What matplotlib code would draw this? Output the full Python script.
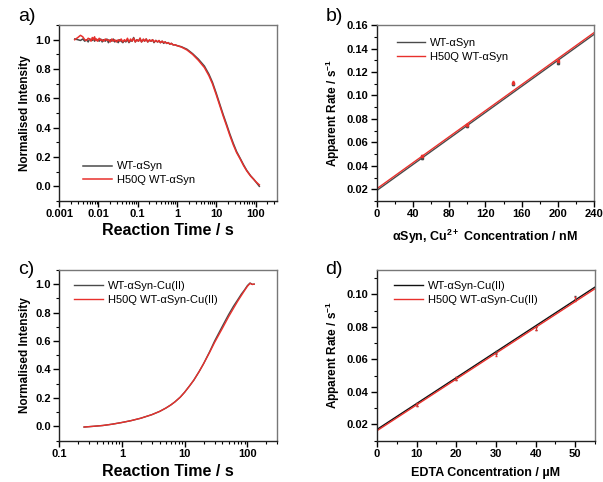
import numpy as np
import matplotlib
matplotlib.use("Agg")
import matplotlib.pyplot as plt
from matplotlib.ticker import MultipleLocator, LogLocator, NullFormatter, FixedLocator

plt.rcParams['font.family'] = ['Liberation Sans', 'DejaVu Sans']
plt.rcParams['mathtext.fontset'] = 'custom'
plt.rcParams['mathtext.rm'] = 'Liberation Sans'
plt.rcParams['mathtext.bf'] = 'Liberation Sans:bold'

# ---- panel a: decay traces (log time) ----
t_fast = [0.0025, 0.003, 0.0035, 0.004, 0.0045, 0.005, 0.0055, 0.006, 0.0065, 0.007,
          0.0075, 0.008, 0.0085, 0.009, 0.0095, 0.0105, 0.0115, 0.0125, 0.0135, 0.015,
          0.0165, 0.018, 0.02, 0.022, 0.024, 0.026, 0.029, 0.032, 0.035, 0.038,
          0.042, 0.046, 0.05, 0.055, 0.06, 0.066, 0.072, 0.079, 0.087, 0.095,
          0.105, 0.115, 0.125, 0.14, 0.15, 0.165, 0.18, 0.2, 0.22, 0.24,
          0.26, 0.29, 0.32, 0.35, 0.38, 0.42, 0.46, 0.5, 0.55, 0.6,
          0.66, 0.72, 0.8, 0.9, 1.0]
red_fast = [1.0, 1.015, 1.03, 1.02, 1.0, 0.995, 1.01, 1.005, 0.99, 1.015,
            1.0, 1.02, 0.995, 1.005, 0.99, 1.01, 0.995, 1.0, 0.99, 1.005,
            0.995, 1.0, 0.985, 1.005, 0.99, 1.0, 0.985, 1.0, 0.99, 1.005,
            0.985, 1.0, 0.99, 1.01, 0.985, 1.005, 0.99, 1.01, 0.985, 1.0,
            0.99, 1.01, 0.985, 1.005, 0.99, 1.005, 0.985, 1.0, 0.99, 1.0,
            0.985, 0.995, 0.985, 0.995, 0.98, 0.99, 0.98, 0.985, 0.975, 0.98,
            0.97, 0.975, 0.965, 0.965, 0.96]
blk_fast = [1.005, 1.0, 0.995, 1.005, 0.99, 1.0, 0.985, 1.005, 1.0, 0.995,
            1.01, 0.99, 1.005, 0.995, 1.0, 0.99, 1.005, 0.985, 1.0, 0.99,
            1.005, 0.98, 1.0, 0.99, 1.005, 0.985, 0.995, 0.98, 1.0, 0.99,
            0.98, 0.995, 0.985, 1.0, 0.98, 0.995, 0.99, 1.015, 0.985, 1.0,
            0.99, 1.01, 0.985, 1.0, 0.99, 1.005, 0.985, 0.995, 0.99, 1.0,
            0.98, 0.995, 0.985, 0.99, 0.98, 0.99, 0.975, 0.985, 0.975, 0.98,
            0.97, 0.975, 0.965, 0.965, 0.96]
t_slow = [1.3, 1.8, 2.5, 3.5, 5, 6.5, 8, 10, 12.5, 15, 18.5, 22, 27, 33, 40, 50, 60, 75, 90, 105, 125]
red_slow = [0.95, 0.93, 0.9, 0.86, 0.81, 0.755, 0.7, 0.625, 0.545, 0.48, 0.41, 0.35,
            0.285, 0.23, 0.19, 0.14, 0.105, 0.07, 0.048, 0.028, 0.01]
blk_slow = [0.952, 0.935, 0.905, 0.868, 0.82, 0.765, 0.71, 0.635, 0.555, 0.49, 0.42, 0.36,
            0.295, 0.237, 0.195, 0.145, 0.108, 0.072, 0.048, 0.026, 0.0]

# ---- panel b: rate vs aSyn/Cu concentration ----
b_fit_x = [0, 240]
b_fit_wt = [0.019, 0.152]
b_fit_h50q = [0.0205, 0.1535]
b_x = [50, 100, 150, 200]
b_wt = [0.047, 0.074, 0.110, 0.128]
b_h50q = [0.048, 0.075, 0.111, 0.129]
b_err = [0.0008, 0.0010, 0.0010, 0.0012]

# ---- panel c: rise traces ----
c_t = [0.25, 0.35, 0.5, 0.7, 1.0, 1.4, 2, 3, 4, 5, 6, 7, 8.5, 10, 12, 14, 17, 20, 25, 30, 40,
       50, 60, 70, 80, 90, 100, 110, 120, 128]
c_h50q = [-0.005, 0.0, 0.006, 0.015, 0.027, 0.04, 0.057, 0.082, 0.105, 0.128, 0.15, 0.172,
          0.205, 0.24, 0.285, 0.325, 0.385, 0.44, 0.52, 0.59, 0.69, 0.77, 0.83, 0.88, 0.92,
          0.955, 0.985, 1.005, 0.998, 1.0]
c_wt = [-0.005, 0.0, 0.006, 0.015, 0.027, 0.04, 0.057, 0.082, 0.105, 0.128, 0.15, 0.172,
        0.205, 0.24, 0.285, 0.325, 0.385, 0.44, 0.525, 0.6, 0.705, 0.785, 0.845, 0.89, 0.93,
        0.96, 0.99, 1.008, 0.998, 1.0]

# ---- panel d: rate vs EDTA ----
d_fit_x = [0, 55]
d_fit_wt = [0.0168, 0.1045]
d_fit_h50q = [0.016, 0.1035]
d_x = [10, 20, 30, 40, 50]
d_wt = [0.032, 0.048, 0.064, 0.079, 0.098]
d_h50q = [0.032, 0.048, 0.063, 0.079, 0.097]
d_err = [0.0008, 0.0008, 0.0008, 0.0010, 0.0012]

RED = '#e8302c'
GREY = '#4a4a4a'

fig = plt.figure(figsize=(6.03, 4.82), dpi=100)
ax_a = fig.add_axes([0.098, 0.583, 0.362, 0.365])
ax_b = fig.add_axes([0.625, 0.583, 0.360, 0.365])
ax_c = fig.add_axes([0.098, 0.086, 0.362, 0.354])
ax_d = fig.add_axes([0.625, 0.086, 0.362, 0.354])


def style(ax):
    for s in ['left', 'bottom']:
        ax.spines[s].set_color('#222222')
    for s in ['top', 'right']:
        ax.spines[s].set_color('#777777')
    for s in ax.spines.values():
        s.set_linewidth(1.0)
    ax.tick_params(which='major', direction='out', length=4, width=1, labelsize=8,
                   top=False, right=False, pad=2)
    ax.tick_params(which='minor', direction='out', length=2, width=0.8, top=False, right=False)
    for lab in ax.get_xticklabels() + ax.get_yticklabels():
        lab.set_fontweight('bold')


def legend(ax, anchor):
    leg = ax.legend(loc='upper left', bbox_to_anchor=anchor, frameon=False, fontsize=8,
                    handlelength=2.6, handletextpad=0.4, labelspacing=0.3,
                    borderaxespad=0)
    return leg


rate_label = r'Apparent Rate / $\mathbf{s^{-1}}$'

# a
ax_a.plot(t_fast + t_slow, blk_fast + blk_slow, color=GREY, lw=1.1, label='WT-αSyn')
ax_a.plot(t_fast + t_slow, red_fast + red_slow, color=RED, lw=1.1, label='H50Q WT-αSyn')
ax_a.set_xscale('log')
ax_a.set_xlim(0.001, 360)
ax_a.set_ylim(-0.1, 1.1)
ax_a.xaxis.set_major_locator(FixedLocator([0.001, 0.01, 0.1, 1, 10, 100]))
ax_a.set_xticklabels(['0.001', '0.01', '0.1', '1', '10', '100'])
ax_a.xaxis.set_minor_locator(LogLocator(base=10, subs=np.arange(2, 10)))
ax_a.xaxis.set_minor_formatter(NullFormatter())
ax_a.set_yticks([0, 0.2, 0.4, 0.6, 0.8, 1.0])
ax_a.set_yticklabels(['0.0', '0.2', '0.4', '0.6', '0.8', '1.0'])
ax_a.yaxis.set_minor_locator(MultipleLocator(0.1))
ax_a.set_ylabel('Normalised Intensity', fontsize=8.5, fontweight='bold', labelpad=3)
ax_a.set_xlabel('Reaction Time / s', fontsize=11.5, fontweight='bold', labelpad=3)
style(ax_a)
legend(ax_a, (0.09, 0.25))

# b
ax_b.plot(b_fit_x, b_fit_wt, color=GREY, lw=1.0, label='WT-αSyn')
ax_b.plot(b_fit_x, b_fit_h50q, color=RED, lw=1.0, label='H50Q WT-αSyn')
ax_b.errorbar(b_x, b_wt, yerr=b_err, fmt='s', ms=2, color=GREY, capsize=1, elinewidth=0.6)
ax_b.errorbar(b_x, b_h50q, yerr=b_err, fmt='s', ms=2, color=RED, capsize=1, elinewidth=0.6)
ax_b.set_xlim(0, 240)
ax_b.set_ylim(0.01, 0.16)
ax_b.xaxis.set_major_locator(MultipleLocator(40))
ax_b.xaxis.set_minor_locator(MultipleLocator(20))
ax_b.set_yticks([0.02, 0.04, 0.06, 0.08, 0.10, 0.12, 0.14, 0.16])
ax_b.set_yticklabels(['0.02', '0.04', '0.06', '0.08', '0.10', '0.12', '0.14', '0.16'])
ax_b.yaxis.set_minor_locator(MultipleLocator(0.01))
ax_b.set_ylabel(rate_label, fontsize=8.5, fontweight='bold', labelpad=3)
ax_b.set_xlabel(r'αSyn, $\mathbf{Cu^{2+}}$ Concentration / nM', fontsize=9,
                fontweight='bold', labelpad=6)
style(ax_b)
legend(ax_b, (0.07, 0.95))

# c
ax_c.plot(c_t, c_wt, color=GREY, lw=1.0, label='WT-αSyn-Cu(II)')
ax_c.plot(c_t, c_h50q, color=RED, lw=1.0, label='H50Q WT-αSyn-Cu(II)')
ax_c.set_xscale('log')
ax_c.set_xlim(0.1, 300)
ax_c.set_ylim(-0.1, 1.1)
ax_c.xaxis.set_major_locator(FixedLocator([0.1, 1, 10, 100]))
ax_c.set_xticklabels(['0.1', '1', '10', '100'])
ax_c.xaxis.set_minor_locator(LogLocator(base=10, subs=np.arange(2, 10)))
ax_c.xaxis.set_minor_formatter(NullFormatter())
ax_c.set_yticks([0, 0.2, 0.4, 0.6, 0.8, 1.0])
ax_c.set_yticklabels(['0.0', '0.2', '0.4', '0.6', '0.8', '1.0'])
ax_c.yaxis.set_minor_locator(MultipleLocator(0.1))
ax_c.set_ylabel('Normalised Intensity', fontsize=8.5, fontweight='bold', labelpad=3)
ax_c.set_xlabel('Reaction Time / s', fontsize=11.5, fontweight='bold', labelpad=3.5)
style(ax_c)
legend(ax_c, (0.05, 0.96))

# d
ax_d.plot(d_fit_x, d_fit_wt, color='#111111', lw=1.0, label='WT-αSyn-Cu(II)')
ax_d.plot(d_fit_x, d_fit_h50q, color=RED, lw=1.0, label='H50Q WT-αSyn-Cu(II)')
ax_d.errorbar(d_x, d_wt, yerr=d_err, fmt='none', color=GREY, capsize=1, elinewidth=0.6)
ax_d.errorbar(d_x, d_h50q, yerr=d_err, fmt='none', color=RED, capsize=1, elinewidth=0.6)
ax_d.set_xlim(0, 55)
ax_d.set_ylim(0.01, 0.115)
ax_d.xaxis.set_major_locator(MultipleLocator(10))
ax_d.xaxis.set_minor_locator(MultipleLocator(5))
ax_d.set_yticks([0.02, 0.04, 0.06, 0.08, 0.10])
ax_d.set_yticklabels(['0.02', '0.04', '0.06', '0.08', '0.10'])
ax_d.yaxis.set_minor_locator(MultipleLocator(0.01))
ax_d.set_ylabel(rate_label, fontsize=8.5, fontweight='bold', labelpad=3)
ax_d.set_xlabel('EDTA Concentration / µM', fontsize=9, fontweight='bold', labelpad=6)
style(ax_d)
legend(ax_d, (0.06, 0.96))

# panel letters
for txt, x, y in [('a)', 0.03, 0.965), ('b)', 0.54, 0.965), ('c)', 0.03, 0.44), ('d)', 0.54, 0.44)]:
    fig.text(x, y, txt, fontsize=14, ha='left', va='center')

fig.savefig('out.png', dpi=100)
